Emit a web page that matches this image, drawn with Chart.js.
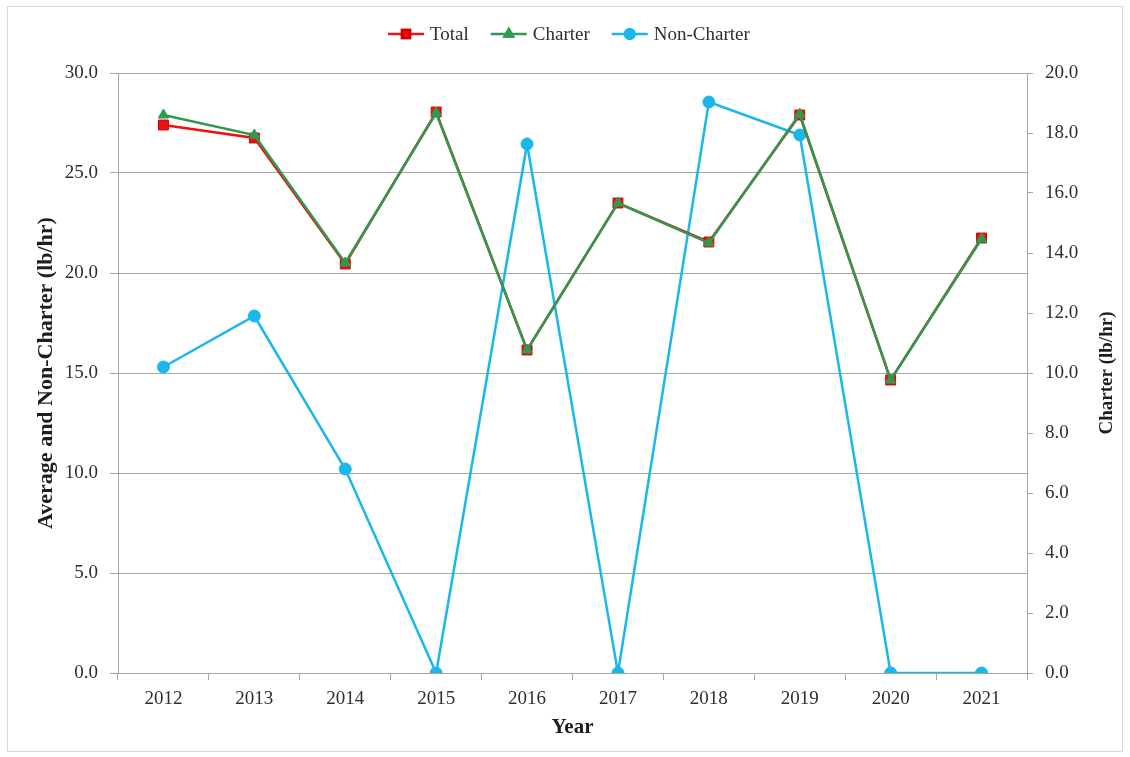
<!DOCTYPE html>
<html>
<head>
<meta charset="utf-8">
<script src="https://cdn.jsdelivr.net/npm/chart.js@4.4.1/dist/chart.umd.min.js"></script>
<style>
  html, body { margin: 0; padding: 0; background: #ffffff; }
  #wrap { width: 1130px; height: 757px; position: relative; }
</style>
</head>
<body>
<div id="wrap"><canvas id="c" width="1130" height="757"></canvas></div>
<script>
const years = ['2012', '2013', '2014', '2015', '2016', '2017', '2018', '2019', '2020', '2021'];
const totalValues = [27.4, 26.75, 20.45, 28.05, 16.15, 23.5, 21.55, 27.9, 14.65, 21.75];
const charterValues = [27.9, 26.9, 20.5, 28.0, 16.15, 23.5, 21.5, 27.95, 14.65, 21.7];
const nonCharterValues = [15.3, 17.85, 10.2, 0, 26.45, 0, 28.55, 26.9, 0, 0];
const leftTicks = { min: 0, max: 30, step: 5 };
const rightTicks = { min: 0, max: 20, step: 2 };

const FONT = '"Liberation Serif", "Times New Roman", serif';
const TICK_COLOR = '#2e2e2e';
const AXIS_COLOR = '#a6a6a6';

const RED = '#ee1111';
const GREEN = '#2e9a50';
const BLUE = '#1ab8ea';

const frame = {
  id: 'frame',
  beforeDraw(chart) {
    const ctx = chart.ctx;
    ctx.save();
    ctx.fillStyle = '#ffffff';
    ctx.fillRect(0, 0, chart.width, chart.height);
    ctx.strokeStyle = '#d9d9d9';
    ctx.lineWidth = 1;
    ctx.strokeRect(7.5, 6.5, 1115, 745);
    ctx.restore();
  },
  afterDraw(chart) {
    const ctx = chart.ctx;
    ctx.save();
    // right axis title (reads bottom to top)
    const ca = chart.chartArea;
    ctx.translate(1107, (ca.top + ca.bottom) / 2);
    ctx.rotate(-Math.PI / 2);
    ctx.font = 'bold 19px ' + FONT;
    ctx.fillStyle = '#1e1e1e';
    ctx.textAlign = 'center';
    ctx.textBaseline = 'middle';
    ctx.fillText('Charter (lb/hr)', 0, 0);
    ctx.restore();

    // legend
    ctx.save();
    ctx.font = '19px ' + FONT;
    ctx.textBaseline = 'middle';
    ctx.textAlign = 'left';
    let x = 388;
    const y = 34;
    chart.data.datasets.forEach(ds => {
      ctx.strokeStyle = ds.borderColor;
      ctx.lineWidth = 2.5;
      ctx.beginPath();
      ctx.moveTo(x, y);
      ctx.lineTo(x + 36, y);
      ctx.stroke();
      Chart.helpers.drawPoint(ctx, {
        pointStyle: ds.pointStyle,
        radius: ds.pointRadius * 0.8,
        borderWidth: 1
      }, x + 18, y);
      ctx.fillStyle = ds.pointBackgroundColor;
      ctx.strokeStyle = ds.pointBorderColor;
      ctx.fill();
      ctx.stroke();
      ctx.fillStyle = '#2e2e2e';
      ctx.fillText(ds.label, x + 42, y + 1);
      x += 42 + ctx.measureText(ds.label).width + 22;
    });
    ctx.restore();
  }
};

new Chart(document.getElementById('c'), {
  type: 'line',
  data: {
    labels: years,
    datasets: [
      {
        label: 'Total',
        data: totalValues,
        yAxisID: 'y',
        borderColor: RED,
        backgroundColor: RED,
        pointBackgroundColor: RED,
        pointBorderColor: '#cc0000',
        pointStyle: 'rect',
        pointRadius: 7,
        pointBorderWidth: 1,
        borderWidth: 2.5,
        tension: 0,
        order: 2
      },
      {
        label: 'Charter',
        data: charterValues,
        yAxisID: 'y',
        borderColor: GREEN,
        backgroundColor: GREEN,
        pointBackgroundColor: GREEN,
        pointBorderColor: GREEN,
        pointStyle: 'triangle',
        pointRadius: 6,
        pointBorderWidth: 1,
        borderWidth: 2.5,
        tension: 0,
        order: 1
      },
      {
        label: 'Non-Charter',
        data: nonCharterValues,
        yAxisID: 'y',
        borderColor: BLUE,
        backgroundColor: BLUE,
        pointBackgroundColor: BLUE,
        pointBorderColor: BLUE,
        pointStyle: 'circle',
        pointRadius: 6,
        pointBorderWidth: 1,
        borderWidth: 2.5,
        tension: 0,
        order: 3
      }
    ]
  },
  options: {
    responsive: false,
    animation: false,
    devicePixelRatio: 1,
    layout: { padding: { top: 73, left: 0, right: 0, bottom: 0 } },
    plugins: {
      legend: { display: false },
      tooltip: { enabled: false }
    },
    scales: {
      x: {
        type: 'category',
        offset: true,
        grid: {
          offset: true,
          drawOnChartArea: false,
          drawTicks: true,
          tickLength: 7,
          color: AXIS_COLOR
        },
        border: { display: true, color: AXIS_COLOR, width: 1 },
        ticks: { font: { family: FONT, size: 19 }, color: TICK_COLOR, padding: 8, maxRotation: 0 },
        title: {
          display: true,
          text: 'Year',
          font: { family: FONT, size: 21, weight: 'bold' },
          color: '#1e1e1e',
          padding: { top: 0, bottom: 17 }
        },
        afterFit(s) { s.height = 84; }
      },
      y: {
        position: 'left',
        min: leftTicks.min,
        max: leftTicks.max,
        ticks: {
          stepSize: leftTicks.step,
          callback: v => Number(v).toFixed(1),
          font: { family: FONT, size: 19 },
          color: TICK_COLOR,
          padding: 12
        },
        grid: { color: AXIS_COLOR, lineWidth: 1, drawTicks: true, tickLength: 8 },
        border: { display: true, color: AXIS_COLOR, width: 1 },
        title: {
          display: true,
          text: 'Average and Non-Charter (lb/hr)',
          font: { family: FONT, size: 22, weight: 'bold' },
          color: '#1e1e1e',
          padding: { top: 33, bottom: 0 }
        },
        afterFit(s) { s.width = 118; }
      },
      y1: {
        position: 'right',
        display: true,
        min: rightTicks.min,
        max: rightTicks.max,
        ticks: {
          stepSize: rightTicks.step,
          callback: v => Number(v).toFixed(1),
          font: { family: FONT, size: 19 },
          color: TICK_COLOR,
          padding: 12
        },
        grid: { drawOnChartArea: false, color: AXIS_COLOR, drawTicks: true, tickLength: 6 },
        border: { display: true, color: AXIS_COLOR, width: 1 },
        afterFit(s) { s.width = 103; }
      }
    }
  },
  plugins: [frame]
});
</script>
</body>
</html>
